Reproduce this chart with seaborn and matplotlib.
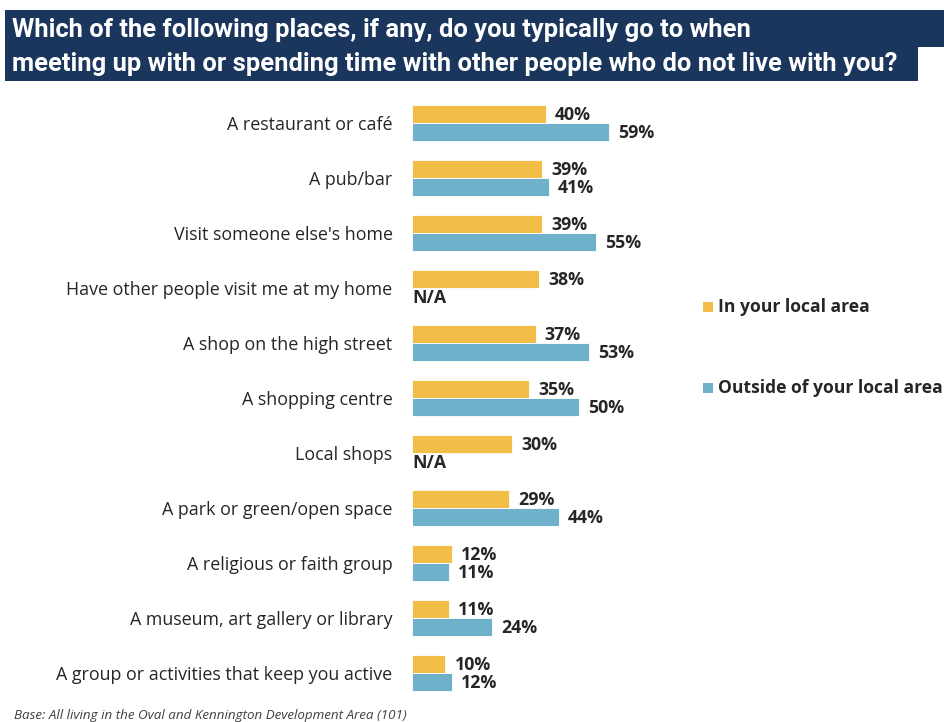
import numpy as np
import pandas as pd
import seaborn as sns
import matplotlib.pyplot as plt
from matplotlib.patches import Polygon, Rectangle

places = [
    "A restaurant or café",
    "A pub/bar",
    "Visit someone else's home",
    "Have other people visit me at my home",
    "A shop on the high street",
    "A shopping centre",
    "Local shops",
    "A park or green/open space",
    "A religious or faith group",
    "A museum, art gallery or library",
    "A group or activities that keep you active",
]
local_area = [40, 39, 39, 38, 37, 35, 30, 29, 12, 11, 10]
outside_area = [59, 41, 55, None, 53, 50, None, 44, 11, 24, 12]
series_names = ["In your local area", "Outside of your local area"]
colors = ["#F2BE48", "#6FB1CB"]

W, H = 945, 722
TXT = "#262626"

df = pd.DataFrame({
    "place": places * 2,
    "value": local_area + outside_area,
    "area": [series_names[0]] * len(places) + [series_names[1]] * len(places),
})
df["value"] = df["value"].astype(float)

sns.set_style("white")
plt.rcParams["font.family"] = ["Open Sans", "DejaVu Sans"]

fig = plt.figure(figsize=(W / 100, H / 100), dpi=100)


def fx(px):
    return px / W


def fy(py):
    return 1 - py / H


# axes: x axis starts at 412px, 3.34 px per percent; rows 55px apart
ax_left, ax_top, ax_bottom = 412, 95.5, 700.5
ax = fig.add_axes([fx(ax_left), fy(ax_bottom), 1 - fx(ax_left), (ax_bottom - ax_top) / H])
sns.barplot(data=df, y="place", x="value", hue="area", palette=colors,
            width=0.64, gap=0, orient="h", ax=ax, legend=False,
            edgecolor="white", linewidth=0.6, saturation=1)
ax.set_xlim(0, (W - ax_left) / 3.34)
ax.set_ylim(len(places) - 0.5, -0.5)
ax.set_xlabel("")
ax.set_ylabel("")
ax.set_xticks([])
ax.tick_params(axis="y", length=0, pad=14, labelsize=12.9, labelcolor=TXT)
sns.despine(ax=ax, left=True, bottom=True)

# value labels
for i, (a, b) in enumerate(zip(local_area, outside_area)):
    ax.text(a + 2.7, i - 0.14, f"{a}%", va="center", ha="left",
            fontsize=12.8, fontweight="bold", color=TXT)
    if b is None:
        ax.text(0, i + 0.18, "N/A", va="center", ha="left",
                fontsize=12.8, fontweight="bold", color=TXT)
    else:
        ax.text(b + 2.7, i + 0.18, f"{b}%", va="center", ha="left",
                fontsize=12.8, fontweight="bold", color=TXT)

# legend
for name, col, py in zip(series_names, colors, [307, 388]):
    fig.patches.append(Rectangle((fx(703), fy(py + 5)), fx(10), 10 / H,
                                 facecolor=col, edgecolor="none",
                                 transform=fig.transFigure, figure=fig))
    fig.text(fx(718), fy(py), name, va="center", ha="left",
             fontsize=12.6, fontweight="bold", color=TXT)

# title banner
pts = [(5, 10), (945, 10), (945, 47), (918, 47), (918, 81), (5, 81)]
fig.patches.append(Polygon([(fx(x), fy(y)) for x, y in pts], closed=True,
                           facecolor="#1B365D", edgecolor="none",
                           transform=fig.transFigure, figure=fig))
title_font = ["Roboto", "DejaVu Sans"]
fig.text(fx(12), fy(30), "Which of the following places, if any, do you typically go to when",
         va="center", ha="left", fontsize=18.4, fontweight="bold", color="white",
         family=title_font)
fig.text(fx(12), fy(64), "meeting up with or spending time with other people who do not live with you?",
         va="center", ha="left", fontsize=18.4, fontweight="bold", color="white",
         family=title_font)

# footer
fig.text(fx(14), fy(716), "Base: All living in the Oval and Kennington Development Area (101)",
         va="center", ha="left", fontsize=9.6, style="italic", color="#404040")

fig.savefig("out.png", dpi=100)
